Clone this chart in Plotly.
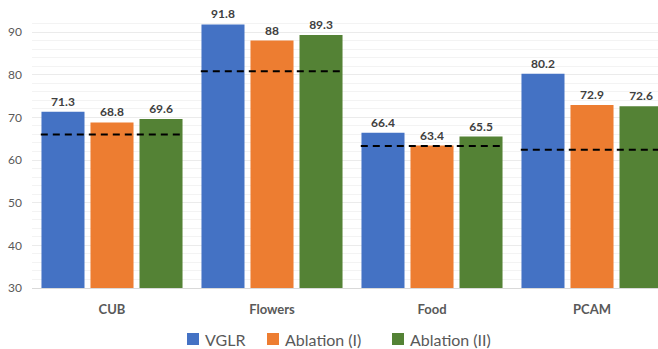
import plotly.graph_objects as go

categories = ["CUB", "Flowers", "Food", "PCAM"]
series_names = ["VGLR", "Ablation (I)", "Ablation (II)"]
vglr = [71.3, 91.8, 66.4, 80.2]
ablation_1 = [68.8, 88, 63.4, 72.9]
ablation_2 = [69.6, 89.3, 65.5, 72.6]
baseline = [66.0, 80.8, 63.3, 62.4]
y_ticks = [30, 40, 50, 60, 70, 80, 90]

colors = ["#4472C4", "#ED7D31", "#548235"]
series_values = [vglr, ablation_1, ablation_2]
xpos = list(range(len(categories)))

fig = go.Figure()
for name, vals, col in zip(series_names, series_values, colors):
    fig.add_trace(go.Bar(
        x=xpos, y=vals, name=name, marker=dict(color=col, line=dict(width=0)),
        text=[f"{v:g}" for v in vals], textposition="outside",
        textfont=dict(family="Lato", size=12, color="#404040", weight="bold"),
        constraintext="none", cliponaxis=False, showlegend=False,
    ))

for i, b in enumerate(baseline):
    fig.add_trace(go.Scatter(
        x=[i - 0.445, i + 0.43], y=[b, b], mode="lines",
        line=dict(color="black", width=2, dash="7px,5px"),
        showlegend=False, hoverinfo="skip", cliponaxis=False,
    ))

fig.update_layout(
    width=658, height=349,
    margin=dict(l=32, r=0, t=15, b=61),
    paper_bgcolor="white", plot_bgcolor="white",
    barmode="group", bargap=0.081, bargroupgap=0.122,
    font=dict(family="Lato", color="#595959"),
    xaxis=dict(
        range=[-0.5, -0.5 + 626 / 160], tickvals=xpos, ticktext=categories,
        showline=True, linecolor="#d9d9d9", linewidth=1, showgrid=False,
        tickfont=dict(family="Lato", size=13, color="#595959", weight="bold"),
        ticklabelstandoff=9, zeroline=False,
    ),
    yaxis=dict(
        range=[30, 94], tickvals=y_ticks, showgrid=True, gridcolor="#ebebeb",
        gridwidth=1, zeroline=False, showline=False,
        tickfont=dict(family="Lato", size=12, color="#595959"),
        ticklabelstandoff=9,
        minor=dict(dtick=2, showgrid=True, gridcolor="#f3f3f3", gridwidth=1),
    ),
)

# custom legend
legend_items = [(187, 203), (267, 283), (392, 408)]
plot_l, plot_w, plot_b, plot_h = 32, 626, 288, 273
for (sx, tx), name, col in zip(legend_items, series_names, colors):
    fig.add_shape(type="rect", xref="paper", yref="paper",
                  x0=(sx - plot_l) / plot_w, x1=(sx + 12 - plot_l) / plot_w,
                  y0=(plot_b - 345) / plot_h, y1=(plot_b - 333) / plot_h,
                  fillcolor=col, line=dict(width=0))
    fig.add_annotation(xref="paper", yref="paper",
                       x=(tx - plot_l) / plot_w, y=(plot_b - 339) / plot_h,
                       xanchor="left", yanchor="middle", showarrow=False,
                       text=name, font=dict(family="Lato", size=16, color="#595959"))

fig.write_html("out.html", config={"displayModeBar": False},
               post_script="document.body.style.margin='0';document.body.style.overflow='hidden';")
